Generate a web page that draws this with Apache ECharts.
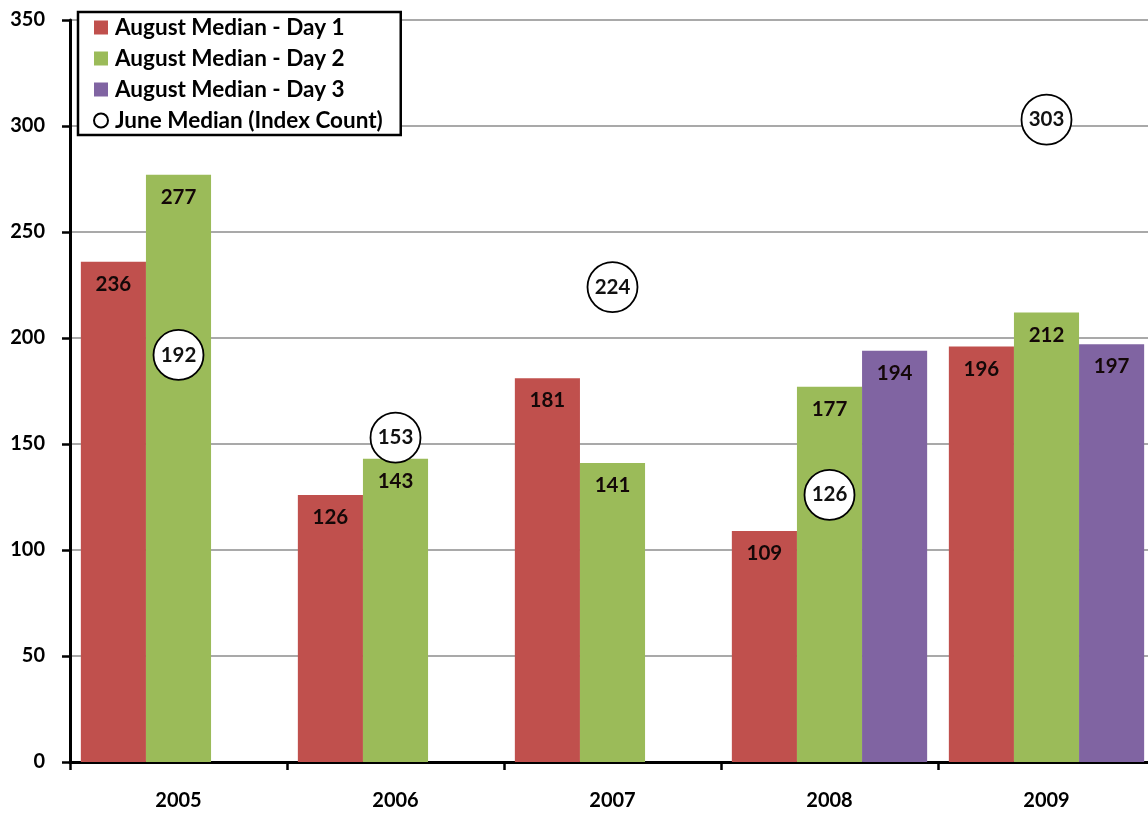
<!DOCTYPE html>
<html>
<head>
<meta charset="utf-8">
<script src="https://cdn.jsdelivr.net/npm/echarts@6/dist/echarts.min.js"></script>
<style>
html,body{margin:0;padding:0;background:#fff;overflow:hidden;}
#chart{width:1160px;height:813px;}
</style>
</head>
<body>
<div id="chart"></div>
<script>
const categories = ['2005', '2006', '2007', '2008', '2009'];
const day1 = [236, 126, 181, 109, 196];
const day2 = [277, 143, 141, 177, 212];
const day3 = [null, null, null, 194, 197];
const june = [192, 153, 224, 126, 303];
const seriesNames = ['August Median - Day 1', 'August Median - Day 2', 'August Median - Day 3', 'June Median (Index Count)'];

const FONT = 'Lato';
const chart = echarts.init(document.getElementById('chart'));
const barLabel = {
  show: true, position: 'insideTop', distance: 12,
  color: '#140808', fontFamily: FONT, fontWeight: 'bold', fontSize: 20.5
};
chart.setOption({
  animation: false,
  backgroundColor: '#fff',
  textStyle: { fontFamily: FONT },
  grid: { left: 70, top: 20, width: 1085, height: 742 },
  legend: {
    orient: 'vertical', left: 78, top: 12,
    backgroundColor: '#fff', borderColor: '#000', borderWidth: 2.5,
    padding: [4, 18, 3, 15],
    itemWidth: 14, itemHeight: 14, itemGap: 8,
    textStyle: { fontFamily: FONT, fontWeight: 'bold', fontSize: 22.5, lineHeight: 22, color: '#000', padding: [0, 0, 0, 2] },
    data: seriesNames.map((n, i) => ({ name: n, icon: i < 3 ? 'rect' : 'circle' }))
  },
  xAxis: {
    type: 'category', data: categories,
    axisLine: { lineStyle: { color: '#000', width: 3 } },
    axisTick: { show: true, length: 8, lineStyle: { color: '#000', width: 2.5 } },
    axisLabel: { margin: 29, color: '#000', fontFamily: FONT, fontWeight: 'bold', fontSize: 20 }
  },
  yAxis: {
    type: 'value', min: 0, max: 350, interval: 50,
    axisLine: { show: true, lineStyle: { color: '#000', width: 3 } },
    axisTick: { show: true, length: 8, lineStyle: { color: '#000', width: 2.5 } },
    axisLabel: { margin: 25, color: '#000', fontFamily: FONT, fontWeight: 'bold', fontSize: 20 },
    splitLine: { lineStyle: { color: '#8c8c8c', width: 1.5 } }
  },
  series: [
    { name: seriesNames[0], type: 'bar', data: day1, barGap: '0%', barCategoryGap: '10%',
      itemStyle: { color: '#C0504D' }, label: barLabel },
    { name: seriesNames[1], type: 'bar', data: day2,
      itemStyle: { color: '#9BBB59' }, label: barLabel },
    { name: seriesNames[2], type: 'bar', data: day3,
      itemStyle: { color: '#8064A2' }, label: barLabel },
    { name: seriesNames[3], type: 'scatter', data: june, symbol: 'circle', symbolSize: 50, z: 10,
      itemStyle: { color: '#fff', opacity: 1, borderColor: '#000', borderWidth: 1.8 },
      label: { show: true, position: 'inside', color: '#111', fontFamily: FONT, fontWeight: 'bold', fontSize: 20.5 } }
  ]
});
</script>
</body>
</html>
